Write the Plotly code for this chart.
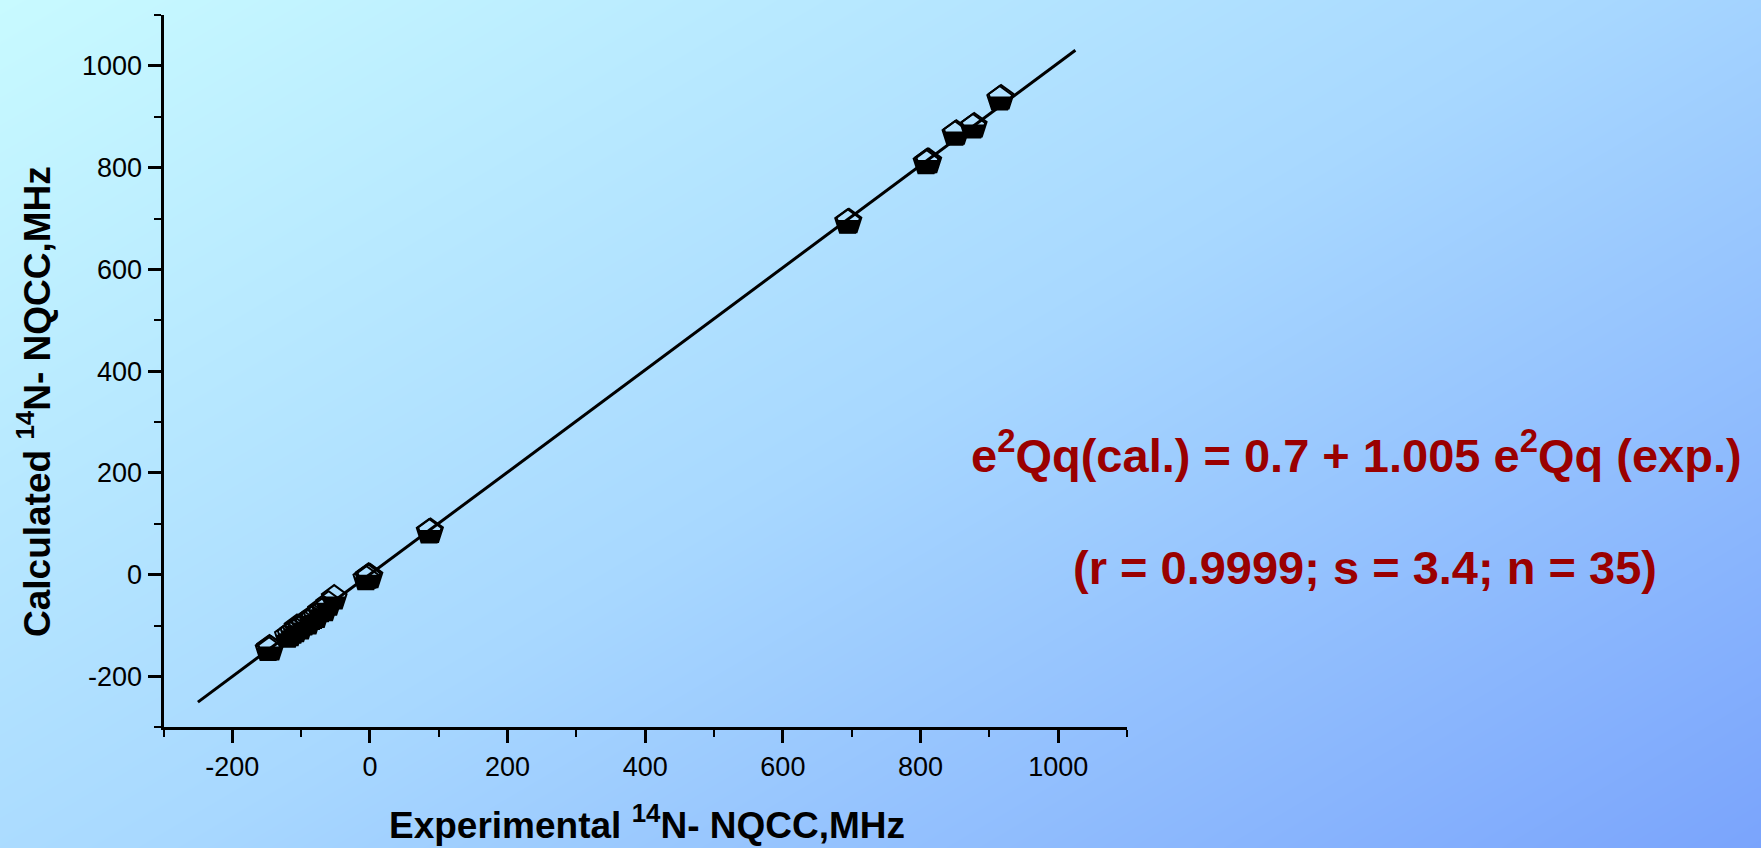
import plotly.graph_objects as go

# Experimental vs calculated 14N nuclear quadrupole coupling constants (MHz)
exp_nqcc = [-148, -146, -144,
            -120, -116, -112, -108, -106, -101, -96, -90, -85, -82, -78, -72, -66, -60, -52,
            -6, -3, -2, 0,
            86, 88,
            694, 696,
            808, 810, 812,
            850, 852,
            876, 878,
            915, 917]
calc_nqcc = [-147, -144, -146,
             -121, -118, -113, -110, -104, -105, -97, -95, -86, -84, -82, -71, -69, -58, -46,
             -8, -5, -3, -4,
             84, 85,
             693, 694,
             810, 812, 812,
             866, 868,
             880, 882,
             935, 937]

# Linear regression reported for the data set
fit_intercept = 0.7
fit_slope = 1.005
fit_x = [-250, 1025]
fit_y = [fit_intercept + fit_slope * v for v in fit_x]

axis_ticks = [-200, 0, 200, 400, 600, 800, 1000]
axis_tick_labels = ["-200", "0", "200", "400", "600", "800", "1000"]

W, H = 1761, 848
FONT = "Liberation Sans, Arial, Helvetica, sans-serif"

fig = go.Figure()

# Diagonal background gradient on a full-figure helper axis pair
fig.add_trace(go.Heatmap(
    x=[0, 1], y=[0, 1],
    z=[[0.45, 1.0], [0.0, 0.55]],
    zmin=0, zmax=1, zsmooth="best", showscale=False, hoverinfo="skip",
    colorscale=[[0.0, "rgb(200,250,255)"], [0.5, "rgb(168,216,255)"], [1.0, "rgb(122,164,252)"]],
    xaxis="x", yaxis="y",
))

fig.add_trace(go.Scatter(
    x=fit_x, y=fit_y, mode="lines",
    line=dict(color="black", width=3),
    xaxis="x2", yaxis="y2", showlegend=False, hoverinfo="skip",
))

fig.add_trace(go.Scatter(
    x=exp_nqcc, y=calc_nqcc, mode="markers",
    marker=dict(symbol="pentagon-open", size=26, color="black", line=dict(color="black", width=2)),
    xaxis="x2", yaxis="y2", showlegend=False,
))

# Lower half of each pentagon filled solid black
r = 13.0
ys = -0.12 * r
xs = r * (0.951 - (ys / r + 0.309) / 1.118 * 0.363)
half_path = "M{:.2f},{:.2f} L{:.2f},{:.2f} L{:.2f},{:.2f} L{:.2f},{:.2f} Z".format(
    -xs, -ys, xs, -ys, 0.588 * r, -0.809 * r, -0.588 * r, -0.809 * r)
shapes = []
for xv, yv in zip(exp_nqcc, calc_nqcc):
    shapes.append(dict(
        type="path", path=half_path, xref="x2", yref="y2",
        xsizemode="pixel", ysizemode="pixel", xanchor=xv, yanchor=yv,
        fillcolor="black", line=dict(width=0), layer="above",
    ))

x0, x1 = 163.5 / W, 1127 / W
y0, y1 = 1 - 727.3 / H, 1 - 15.1 / H

axis_common = dict(
    range=[-300, 1100], tickvals=axis_ticks, ticktext=axis_tick_labels,
    showgrid=False, zeroline=False,
    showline=True, linecolor="black", linewidth=3,
    ticks="outside", ticklen=13, tickwidth=3, tickcolor="black",
    minor=dict(dtick=100, tick0=0, ticks="outside", ticklen=7, tickwidth=2, tickcolor="black"),
    tickfont=dict(family=FONT, size=27, color="black"),
)

fig.update_layout(
    width=W, height=H, autosize=False,
    margin=dict(l=0, r=0, t=0, b=0),
    paper_bgcolor="rgb(168,216,255)", plot_bgcolor="rgba(0,0,0,0)",
    xaxis=dict(domain=[0, 1], range=[0, 1], visible=False, fixedrange=True),
    yaxis=dict(domain=[0, 1], range=[0, 1], visible=False, fixedrange=True),
    xaxis2=dict(domain=[x0, x1], anchor="y2", **axis_common),
    yaxis2=dict(domain=[y0, y1], anchor="x2", **axis_common),
    shapes=shapes,
    showlegend=False,
    annotations=[
        dict(text="<b>Experimental <sup>14</sup>N- NQCC,MHz</b>", xref="paper", yref="paper",
             x=647 / W, y=1 - 822 / H, xanchor="center", yanchor="middle", showarrow=False,
             font=dict(family=FONT, size=37, color="black")),
        dict(text="<b>Calculated <sup>14</sup>N- NQCC,MHz</b>", xref="paper", yref="paper",
             x=34 / W, y=1 - 402 / H, xanchor="center", yanchor="middle", showarrow=False,
             textangle=-90, font=dict(family=FONT, size=37, color="black")),
        dict(text="<b>e<sup>2</sup>Qq(cal.) = 0.7 + 1.005 e<sup>2</sup>Qq (exp.)</b>",
             xref="paper", yref="paper", x=1356 / W, y=1 - 452 / H,
             xanchor="center", yanchor="middle", showarrow=False,
             font=dict(family=FONT, size=47, color="#9A0000")),
        dict(text="<b>(r = 0.9999; s = 3.4; n = 35)</b>",
             xref="paper", yref="paper", x=1365 / W, y=1 - 567 / H,
             xanchor="center", yanchor="middle", showarrow=False,
             font=dict(family=FONT, size=47, color="#9A0000")),
    ],
)

fig.write_html("out.html")
